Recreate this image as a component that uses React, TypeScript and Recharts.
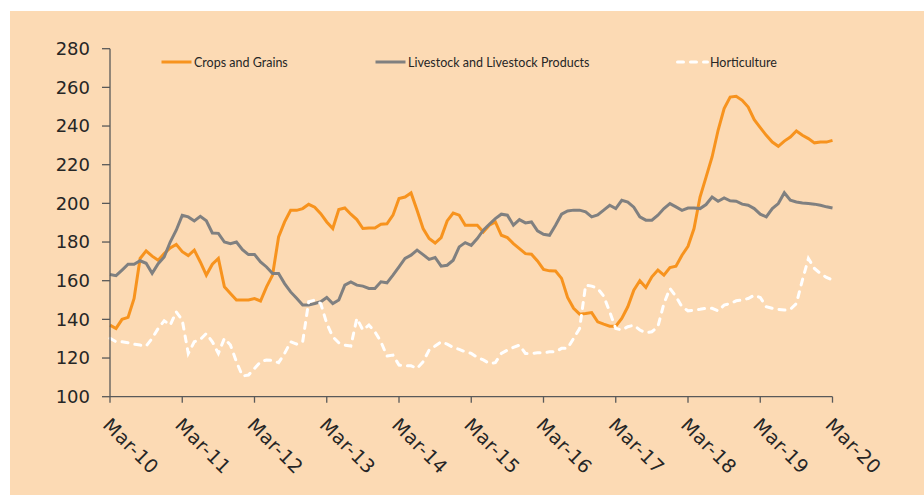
import { LineChart, Line, XAxis, YAxis } from 'recharts';

// Monthly index, Mar-10 .. Mar-20 (121 months)
const yearLabels = ['Mar-10', 'Mar-11', 'Mar-12', 'Mar-13', 'Mar-14', 'Mar-15', 'Mar-16', 'Mar-17', 'Mar-18', 'Mar-19', 'Mar-20'];
const yTicks = [100, 120, 140, 160, 180, 200, 220, 240, 260, 280];

const crops = [
  137, 135.3, 140, 141, 150.8, 171.5, 175.4, 172.7, 170.6, 174, 177, 178.8,
  175, 173, 175.8, 169.7, 162.9, 168.5, 171.5, 156.8, 153.4, 150, 150, 150,
  150.8, 149.5, 156.8, 162.9, 182.6, 190.4, 196.4, 196.4, 197.3, 199.5, 198, 194.7,
  190.4, 187, 196.8, 197.6, 194.4, 191.6, 187, 187.3, 187.3, 189.2, 189.4, 193.9,
  202.5, 203.3, 205.4, 196.4, 187, 181.8, 179.5, 182.3, 190.9, 195, 193.9, 188.7,
  188.7, 188.7, 185.2, 188.7, 190.4, 183.5, 182.3, 179.2, 176.6, 174, 173.7, 170.2,
  165.8, 165.1, 165, 161.2, 151.3, 145.7, 142.7, 143, 143.5, 138.7, 137.5, 136.5,
  136.5, 140.5, 146.5, 155.1, 160, 156.5, 162, 165.5, 162.9, 166.8, 167.5, 173.2,
  177.8, 187, 203.3, 213.6, 224, 237.8, 249, 255, 255.4, 253.3, 249.8, 243.3,
  239.2, 235.2, 231.7, 229.5, 232.2, 234.3, 237.4, 235.2, 233.5, 231.3, 231.7, 231.7,
  232.6,
];

const livestock = [
  163.2, 162.6, 165.5, 168.5, 168.5, 170.3, 169, 163.8, 168.8, 172.3, 180, 186.1,
  193.8, 193, 190.9, 193.3, 191, 184.7, 184.5, 180, 179.2, 180, 176.1, 173.5,
  173.6, 169.7, 167.1, 163.7, 163.7, 158.5, 154.2, 150.9, 147.4, 147.4, 148.2, 149.1,
  151.3, 148.2, 150, 157.7, 159.4, 157.7, 157.2, 156, 156, 159.4, 158.9, 162.9,
  167.2, 171.5, 173.2, 175.8, 173.5, 171, 172, 167.5, 168, 170.6, 177.5, 179.7,
  178.3, 181.8, 186.1, 189.2, 192.1, 194.4, 193.9, 188.7, 191.6, 189.9, 190.4, 185.8,
  184, 183.5, 188.7, 194.4, 196.1, 196.5, 196.5, 195.6, 193, 194, 196.5, 199,
  197.3, 201.6, 200.7, 198, 193, 191.3, 191.3, 193.9, 197.3, 199.9, 198.2, 196.4,
  197.6, 197.6, 197.3, 199.4, 203.3, 201.1, 202.8, 201.3, 201.1, 199.6, 199, 197.3,
  194.4, 193, 197.3, 199.9, 205.5, 201.6, 200.7, 200.2, 199.9, 199.6, 199, 198.2,
  197.6,
];

const horticulture = [
  130.2, 128.4, 128.4, 127.9, 127.2, 126.7, 126.2, 130.2, 135.3, 139.3, 137, 143.9,
  139.6, 122.4, 128.4, 129.6, 132.7, 128.4, 122.4, 130.2, 126.7, 118.1, 110.7, 111.2,
  114.6, 118.1, 119, 118.7, 117.6, 122.4, 128.4, 127.2, 128.4, 149.1, 150, 148.2,
  137.9, 131, 127.9, 126.7, 126.2, 140.5, 134.5, 137, 133.6, 128.4, 121, 121.5,
  116.4, 116, 116, 114.6, 118.1, 124.1, 126.2, 128.4, 127.2, 125.5, 124.5, 123.2,
  122.4, 120.3, 119, 117.2, 117.6, 122.4, 124.1, 125.5, 126.7, 122.4, 122.4, 122.7,
  122.7, 123.2, 123.2, 125, 125, 130.2, 135.3, 157.7, 157.2, 156, 152, 143.9,
  135.3, 134.5, 136.2, 137, 134.5, 133.1, 133.6, 136.2, 148.2, 156, 151.8, 146.5,
  144.4, 144.8, 145.2, 145.7, 145.7, 144.4, 147.4, 148.2, 149.6, 150, 150.8, 152.5,
  151.3, 146.5, 145.7, 145.2, 144.8, 145.2, 148.2, 160.3, 171.5, 166.3, 163.7, 161.7,
  160.3,
];

const data = crops.map((c, i) => ({
  m: i,
  crops: c,
  livestock: livestock[i],
  horticulture: horticulture[i],
}));

const xTicks = yearLabels.map((_, i) => i * 12);

const BG = '#FCDAB4';
const ORANGE = '#F7931E';
const GRAY = '#808080';
const AXIS = '#595959';
const TEXT = '#262626';

const XTick = (props: any) => {
  const { x, y, payload } = props;
  const label = yearLabels[payload.value / 12];
  return (
    <g transform={`translate(${x},${y}) rotate(45)`}>
      <text x={9.5} y={21} fill={TEXT} fontSize={19} letterSpacing={0.6} fontFamily="DejaVu Sans" textAnchor="start">
        {label}
      </text>
    </g>
  );
};

const legendItems = [
  { name: 'Crops and Grains', color: ORANGE, dash: false, left: 160 },
  { name: 'Livestock and Livestock Products', color: GRAY, dash: false, left: 374 },
  { name: 'Horticulture', color: '#FFFFFF', dash: true, left: 676 },
];

export default function App() {
  return (
    <div style={{ position: 'absolute', left: 0, top: 0, width: 924, height: 495, background: '#fff', overflow: 'hidden' }}>
      <div style={{ position: 'absolute', left: 10, top: 11, width: 914, height: 484, background: BG }}>
        <LineChart width={914} height={484} data={data} margin={{ top: 37.7, right: 91.5, left: 0, bottom: 0 }}>
          <XAxis
            dataKey="m"
            type="number"
            domain={[0, 120]}
            ticks={xTicks}
            interval={0}
            height={98.3}
            tickSize={6}
            tickMargin={2}
            stroke={AXIS}
            strokeWidth={1.3}
            tick={<XTick />}
          />
          <YAxis
            domain={[100, 280]}
            ticks={yTicks}
            interval={0}
            width={100}
            tickSize={8}
            tickMargin={12}
            stroke={AXIS}
            strokeWidth={1.3}
            tick={{ fill: TEXT, fontSize: 18, fontFamily: 'DejaVu Sans' }}
          />
          <Line type="linear" dataKey="crops" stroke={ORANGE} strokeWidth={3} dot={false} isAnimationActive={false} />
          <Line type="linear" dataKey="livestock" stroke={GRAY} strokeWidth={3} dot={false} isAnimationActive={false} />
          <Line
            type="linear"
            dataKey="horticulture"
            stroke="#FFFFFF"
            strokeWidth={3}
            strokeDasharray="6 7"
            strokeLinecap="round"
            dot={false}
            isAnimationActive={false}
          />
        </LineChart>
      </div>
      {legendItems.map((it) => (
        <div
          key={it.name}
          style={{ position: 'absolute', left: it.left, top: 53, height: 18, display: 'flex', alignItems: 'center' }}
        >
          <svg width={33} height={6} style={{ display: 'block' }}>
            <line
              x1={1.5}
              y1={3}
              x2={31.5}
              y2={3}
              stroke={it.color}
              strokeWidth={3}
              strokeLinecap={it.dash ? 'round' : 'butt'}
              strokeDasharray={it.dash ? '6 7' : undefined}
            />
          </svg>
          <span style={{ fontFamily: 'Lato', fontSize: 12.5, color: TEXT, whiteSpace: 'nowrap', marginLeft: 1 }}>{it.name}</span>
        </div>
      ))}
    </div>
  );
}
